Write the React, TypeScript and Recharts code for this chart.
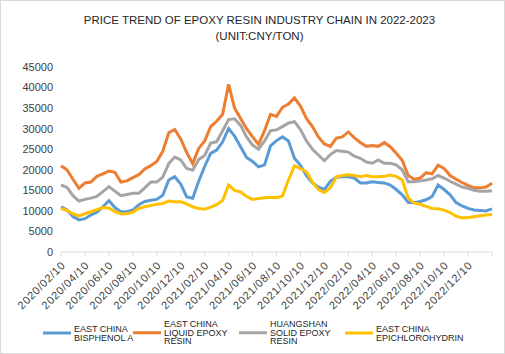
import React from 'react';
import { LineChart, Line, XAxis, YAxis } from 'recharts';

const dates = [
  '2020/02/10','2020/02/25','2020/03/10','2020/03/25','2020/04/10','2020/04/25','2020/05/10','2020/05/25',
  '2020/06/10','2020/06/25','2020/07/10','2020/07/25','2020/08/10','2020/08/25','2020/09/10','2020/09/25',
  '2020/10/10','2020/10/25','2020/11/10','2020/11/25','2020/12/10','2020/12/25','2021/01/10','2021/01/25',
  '2021/02/10','2021/02/25','2021/03/10','2021/03/25','2021/04/10','2021/04/25','2021/05/10','2021/05/25',
  '2021/06/10','2021/06/25','2021/07/10','2021/07/25','2021/08/10','2021/08/25','2021/09/10','2021/09/25',
  '2021/10/10','2021/10/25','2021/11/10','2021/11/25','2021/12/10','2021/12/25','2022/01/10','2022/01/25',
  '2022/02/10','2022/02/25','2022/03/10','2022/03/25','2022/04/10','2022/04/25','2022/05/10','2022/05/25',
  '2022/06/10','2022/06/25','2022/07/10','2022/07/25','2022/08/10','2022/08/25','2022/09/10','2022/09/25',
  '2022/10/10','2022/10/25','2022/11/10','2022/11/25','2022/12/10','2022/12/25','2023/01/10','2023/01/25',
  '2023/02/10',
];

const tickLabels = [
  '2020/02/10','2020/04/10','2020/06/10','2020/08/10','2020/10/10','2020/12/10',
  '2021/02/10','2021/04/10','2021/06/10','2021/08/10','2021/10/10','2021/12/10',
  '2022/02/10','2022/04/10','2022/06/10','2022/08/10','2022/10/10','2022/12/10',
];

const yTicks = [0, 5000, 10000, 15000, 20000, 25000, 30000, 35000, 40000, 45000];

const bisphenolA = [
  11000, 10200, 8600, 7800, 8100, 9000, 9700, 11000, 12500, 10800, 9800, 9800, 10200, 11500, 12300, 12600,
  12800, 13800, 17500, 18300, 16500, 13400, 13100, 17200, 20800, 24000, 24800, 26800, 30000, 28200, 25600, 23000,
  22000, 20700, 21200, 25800, 27100, 28000, 27000, 22800, 21100, 18600, 16800, 15800, 15200, 17200, 18200, 18300,
  18300, 18000, 16800, 16800, 17100, 16900, 16800, 16300, 15200, 13900, 12100, 12000, 12300, 12700, 13500, 16300,
  15200, 13900, 12000, 11200, 10600, 10200, 10100, 10000, 10500,
];

const liquidEpoxy = [
  21000, 20000, 17700, 15500, 16800, 17000, 18400, 19000, 19700, 19400, 17000, 17300, 18100, 18800, 20200, 21000,
  22000, 24500, 29000, 29800, 27500, 24200, 21500, 25200, 27000, 30500, 31800, 33500, 40800, 35000, 32500, 30000,
  28000, 26200, 29500, 33500, 33000, 35200, 36000, 37500, 35500, 32500, 30500, 28000, 26300, 25700, 27700, 28000,
  29200, 27800, 26600, 25700, 25900, 25700, 26600, 25600, 24000, 22300, 18600, 17700, 18000, 19300, 19000, 21100,
  20300, 18600, 17700, 16900, 16200, 15600, 15600, 15800, 16700,
];

const solidEpoxy = [
  16300, 15700, 13700, 12400, 12800, 13100, 13500, 14700, 15900, 14800, 13700, 14000, 14300, 14300, 15600, 17000,
  17000, 18200, 21500, 23100, 22400, 20300, 19900, 22500, 23500, 26500, 26800, 29500, 32200, 32400, 30800, 28000,
  26000, 25000, 27000, 29500, 29700, 30500, 31400, 31700, 29800, 27000, 25000, 23600, 22200, 23700, 24700, 24500,
  24300, 23300, 22800, 21900, 21600, 22400, 21600, 21600, 21200, 20000, 17100, 17100, 17300, 17500, 17800, 18600,
  18000, 17200, 16500, 15800, 15500, 15000, 14800, 14800, 14900,
];

const epichlorohydrin = [
  10600, 10100, 9300, 8800, 9300, 9800, 10300, 10800, 10700, 9800, 9300, 9300, 9700, 10600, 11000, 11300,
  11600, 11800, 12400, 12200, 12200, 11700, 11000, 10600, 10400, 10900, 11500, 12500, 16300, 15000, 14600, 13500,
  12800, 13000, 13200, 13300, 13200, 13600, 17500, 21000, 20300, 19500, 17000, 15200, 14500, 15600, 18300, 18600,
  18800, 18600, 18300, 18600, 18300, 18300, 18400, 18700, 18400, 17500, 13100, 11900, 11600, 11100, 10600, 10500,
  10200, 9600, 8700, 8300, 8400, 8600, 8800, 9000, 9100,
];

const series = [
  { key: 'bpa', values: bisphenolA, color: '#5B9BD5', legend: ['EAST CHINA', 'BISPHENOL A'] },
  { key: 'liquid', values: liquidEpoxy, color: '#ED7D31', legend: ['EAST CHINA', 'LIQUID EPOXY', 'RESIN'] },
  { key: 'solid', values: solidEpoxy, color: '#A5A5A5', legend: ['HUANGSHAN', 'SOLID EPOXY', 'RESIN'] },
  { key: 'ech', values: epichlorohydrin, color: '#FFC000', legend: ['EAST CHINA', 'EPICHLOROHYDRIN'] },
];

const data = dates.map((d, i) => {
  const row: Record<string, string | number> = { date: d };
  series.forEach((s) => { row[s.key] = s.values[i]; });
  return row;
});

const legendLeft = [43, 133, 239, 345];

const FONT = '"Liberation Sans", Arial, sans-serif';

const XTick = (props: any) => {
  const { x, y, payload } = props;
  const show = tickLabels.includes(payload.value);
  if (!show) return <g />;
  return (
    <text
      transform={`translate(${x + 5},${y + 8}) rotate(-45)`}
      textAnchor="end"
      fontSize={11}
      letterSpacing={0.7}
      fill="#404040"
      fontFamily={FONT}
    >
      {payload.value}
    </text>
  );
};

export default function App() {
  return (
    <div
      style={{
        position: 'absolute',
        left: 0,
        top: 0,
        width: 505,
        height: 354,
        boxSizing: 'border-box',
        border: '1px solid #d9d9d9',
        background: '#fff',
        fontFamily: FONT,
      }}
    >
      <div
        style={{
          position: 'absolute',
          left: 12,
          top: 11,
          width: 493,
          textAlign: 'center',
          fontSize: 11.5,
          lineHeight: '16px',
          color: '#262626',
        }}
      >
        <div>PRICE TREND OF EPOXY RESIN INDUSTRY CHAIN IN 2022-2023</div>
        <div>(UNIT:CNY/TON)</div>
      </div>
      <div style={{ position: 'absolute', left: -1, top: -1 }}>
        <LineChart width={505} height={354} data={data} margin={{ top: 67, right: 13, left: 0, bottom: 0 }}>
          <XAxis
            dataKey="date"
            interval={3}
            tick={<XTick />}
            tickSize={4}
            tickLine={{ stroke: '#d9d9d9' }}
            axisLine={{ stroke: '#d9d9d9' }}
            height={102}
          />
          <YAxis
            width={61}
            domain={[0, 45000]}
            ticks={yTicks}
            interval={0}
            axisLine={false}
            tickLine={false}
            tick={{ fontSize: 11, fill: '#404040', fontFamily: FONT }}
          />
          {series.map((s) => (
            <Line
              key={s.key}
              dataKey={s.key}
              type="linear"
              stroke={s.color}
              strokeWidth={3}
              dot={false}
              isAnimationActive={false}
            />
          ))}
        </LineChart>
      </div>
      {series.map((s, i) => (
        <div
          key={s.key}
          style={{
            position: 'absolute',
            left: legendLeft[i] - 1,
            top: 333 - 1,
            transform: 'translateY(-50%)',
            display: 'flex',
            alignItems: 'center',
          }}
        >
          <div style={{ width: 28, height: 3, background: s.color, marginRight: 3 }} />
          <div style={{ fontSize: 9, lineHeight: '8.5px', color: '#262626' }}>
            {s.legend.map((l) => (
              <div key={l}>{l}</div>
            ))}
          </div>
        </div>
      ))}
    </div>
  );
}
